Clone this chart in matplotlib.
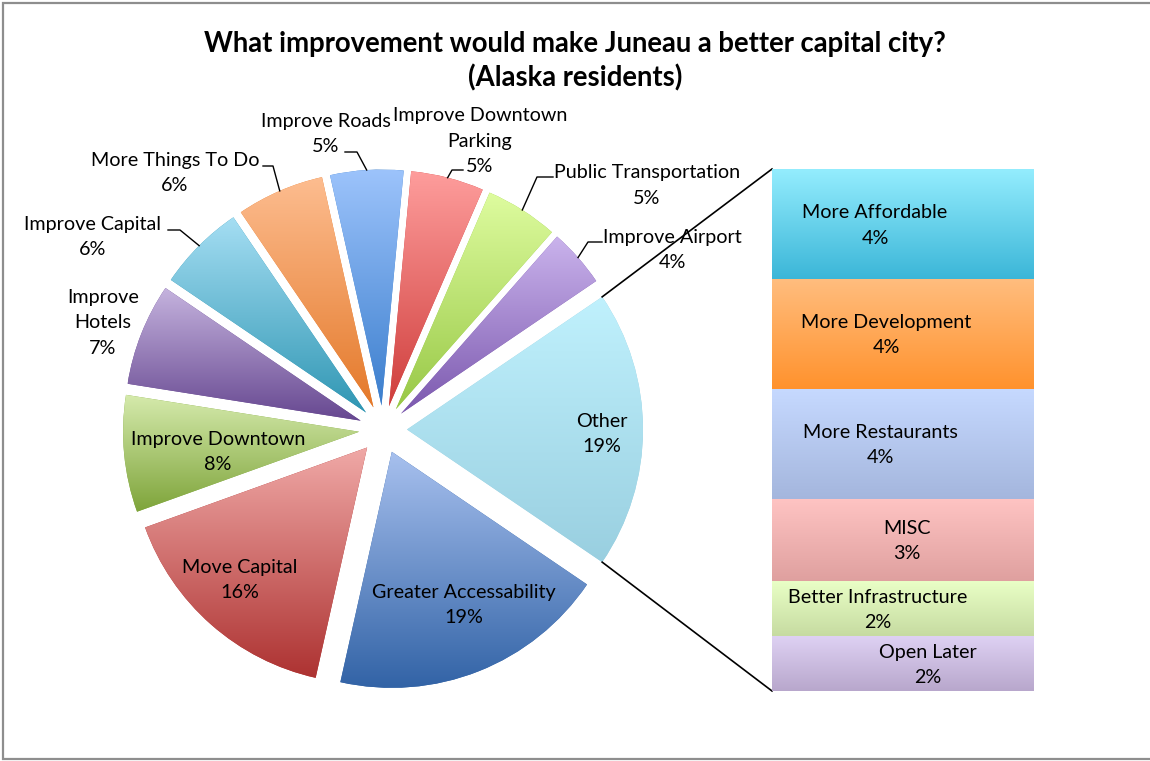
import numpy as np
import matplotlib
matplotlib.use('Agg')
import matplotlib.pyplot as plt
from matplotlib.colors import to_rgb

plt.rcParams['font.family'] = ['Lato', 'DejaVu Sans']

title = 'What improvement would make Juneau a better capital city?\n(Alaska residents)'

# pie slices, clockwise starting below "Other"
categories = ['Greater Accessability', 'Move Capital', 'Improve Downtown', 'Improve Hotels',
              'Improve Capital', 'More Things To Do', 'Improve Roads',
              'Improve Downtown Parking', 'Public Transportation', 'Improve Airport', 'Other']
values = [19, 16, 8, 7, 6, 6, 5, 5, 5, 4, 19]

# what "Other" is made of, top to bottom of the bar
other_categories = ['More Affordable', 'More Development', 'More Restaurants', 'MISC',
                    'Better Infrastructure', 'Open Later']
other_values = [4, 4, 4, 3, 2, 2]

# (top, bottom) gradient colours
pie_colors = [('#a7c0ee', '#3263a6'), ('#f0a9a7', '#ad3231'), ('#d5eaac', '#7ea43a'),
              ('#c5b3de', '#664790'), ('#a5def3', '#2f96b3'), ('#fdbd90', '#e4792a'),
              ('#9cc3fb', '#3b7ecd'), ('#fe9d9c', '#cf3e3c'), ('#defc9f', '#98c846'),
              ('#cab3ec', '#7b58ae'), ('#c0f1fd', '#99cfe0')]
bar_colors = [('#94edfe', '#3bb6d8'), ('#ffbd7e', '#ff922d'), ('#c6d9ff', '#a4b6dd'),
              ('#ffc4c3', '#dfa09f'), ('#e9ffc6', '#c6dba1'), ('#ded1f3', '#b8a7cc')]

LABEL_FS = 14.2
LINESP = 1.6


def fill_gradient(axis, patch, top, bottom):
    ext = patch.get_path().transformed(patch.get_patch_transform()).get_extents()
    t = np.linspace(0, 1, 256)[:, None, None]
    img = (1 - t) * np.array(to_rgb(top)) + t * np.array(to_rgb(bottom))
    im = axis.imshow(img, extent=(ext.x0, ext.x1, ext.y1, ext.y0), origin='upper',
                     aspect='auto', interpolation='bilinear', zorder=patch.get_zorder() + 0.1)
    im.set_clip_path(patch)


fig = plt.figure(figsize=(11.5, 7.61), dpi=100)
ax = fig.add_axes([0, 0, 1, 1])

# y axis runs downward, so counterclockwise data angles are drawn clockwise
start = 180 * values[-1] / sum(values)
wedges, _ = ax.pie(values, center=(383, 429.5), radius=236, explode=[24] * len(values),
                   startangle=start, counterclock=True, wedgeprops=dict(linewidth=0))
for w, (c0, c1) in zip(wedges, pie_colors):
    w.set_facecolor(c1)
    fill_gradient(ax, w, c0, c1)

ax.set_xlim(0, 1150)
ax.set_ylim(761, 0)
ax.set_aspect('auto')
ax.axis('off')


def arc_point(w, ang):
    a = np.radians(ang)
    return w.center[0] + w.r * np.cos(a), w.center[1] + w.r * np.sin(a)


pct = {c: f'{v}%' for c, v in zip(categories, values)}

# labels sitting on the slices
inside = {'Other': (602, 434), 'Greater Accessability': (464, 605),
          'Move Capital': (240, 580), 'Improve Downtown': (218, 452)}
for name, (x, y) in inside.items():
    ax.text(x, y, f'{name}\n{pct[name]}', ha='center', va='center', fontsize=LABEL_FS,
            linespacing=LINESP, zorder=5)

# labels outside with leader lines: text centre, line start, elbow
outside = {
    'Improve Hotels': ('Improve\nHotels', (103, 323), None, None),
    'Improve Capital': ('Improve Capital', (93, 237), (168, 230), (180, 230)),
    'More Things To Do': ('More Things To Do', (175, 173), (263, 166), (273, 166)),
    'Improve Roads': ('Improve Roads', (326, 134), (345, 152), (357, 152)),
    'Improve Downtown Parking': ('Improve Downtown\nParking', (480, 141), (463, 170), (452, 170)),
    'Public Transportation': ('Public Transportation', (647, 185.5), (553, 177), (537, 177)),
    'Improve Airport': ('Improve Airport', (672, 250), (602, 242), (588, 242)),
}
for w, name in zip(wedges, categories):
    if name not in outside:
        continue
    text, (x, y), p0, p1 = outside[name]
    ax.text(x, y, f'{text}\n{pct[name]}', ha='center', va='center', fontsize=LABEL_FS,
            linespacing=LINESP, zorder=5)
    if p0 is not None:
        px, py = arc_point(w, (w.theta1 + w.theta2) / 2)
        ax.plot([p0[0], p1[0], px], [p0[1], p1[1], py], color='black', lw=1, zorder=4)

ax.text(575, 61, title, ha='center', va='center', fontsize=19.8, fontweight='bold',
        linespacing=1.32)

# chart border (open on the right)
ax.plot([1150, 3, 3, 1150], [3, 3, 759, 759], color='#8e8e8e', lw=1.6,
        solid_joinstyle='miter')

# bar of "Other"
bax = fig.add_axes([772 / 1150, (761 - 691) / 761, 262 / 1150, 522 / 761])
bottoms = np.concatenate([[0], np.cumsum(other_values)[:-1]])
bars = bax.bar(0, other_values, bottom=bottoms, width=1, linewidth=0)
for b, (c0, c1) in zip(bars, bar_colors):
    b.set_facecolor(c1)
    fill_gradient(bax, b, c0, c1)
bax.set_xlim(-0.5, 0.5)
bax.set_ylim(sum(other_values), 0)
bax.axis('off')

label_x = [-0.107, -0.065, -0.088, 0.015, -0.095, 0.095]
for name, v, b0, lx in zip(other_categories, other_values, bottoms, label_x):
    bax.text(lx, b0 + v / 2 + 0.05, f'{name}\n{v}%', ha='center', va='center',
             fontsize=LABEL_FS, linespacing=LINESP)

# connector lines from the "Other" slice to the bar
other = wedges[-1]
ends = sorted([arc_point(other, other.theta1), arc_point(other, other.theta2)], key=lambda p: p[1])
corners = ax.transData.inverted().transform(bax.transAxes.transform([(0, 1), (0, 0)]))
for (ex, ey), (cx, cy) in zip(ends, corners):
    ax.plot([ex, cx], [ey, cy], color='black', lw=1.2, zorder=4)

fig.savefig('out.png', dpi=100)
